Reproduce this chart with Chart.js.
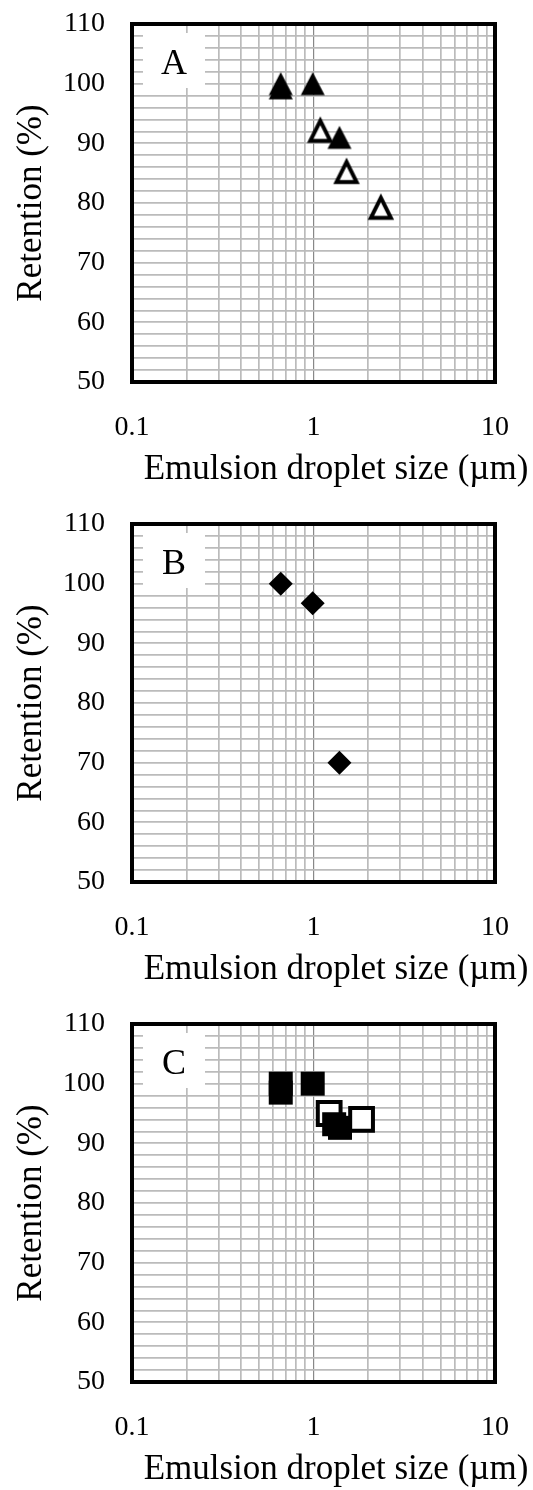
<!DOCTYPE html>
<html>
<head>
<meta charset="utf-8">
<title>Retention vs emulsion droplet size</title>
<script src="https://cdn.jsdelivr.net/npm/chart.js@4.4.1/dist/chart.umd.min.js"></script>
<style>
  html, body { margin: 0; padding: 0; background: #fff; }
  canvas { display: block; }
</style>
</head>
<body>
<canvas id="panelA" width="533" height="500"></canvas>
<canvas id="panelB" width="533" height="500"></canvas>
<canvas id="panelC" width="533" height="490"></canvas>
<script>
/* ===============================
   DATA
================================= */
const panelLabels = ['A', 'B', 'C'];
const xAxisTitle = 'Emulsion droplet size (µm)';
const yAxisTitle = 'Retention (%)';

const xGridValues = [0.1, 0.2, 0.3, 0.4, 0.5, 0.6, 0.7, 0.8, 0.9, 1, 2, 3, 4, 5, 6, 7, 8, 9, 10];
const xTickLabels = ['0.1', '1', '10'];
const yTickLabels = ['50', '60', '70', '80', '90', '100', '110'];

// A - triangles
const aFilledSize = [0.66, 0.66, 0.99, 1.39];
const aFilledRetention = [100, 99.3, 100, 91];
const aOpenSize = [1.09, 1.52, 2.35];
const aOpenRetention = [92.3, 85.4, 79.4];

// B - diamonds
const bSize = [0.66, 0.99, 1.39];
const bRetention = [100, 96.7, 70];

// C - squares
const cFilledSize = [0.66, 0.66, 0.99, 1.3, 1.4];
const cFilledRetention = [100, 98.5, 100, 93.2, 92.6];
const cOpenSize = [1.22, 1.84];
const cOpenRetention = [95, 94];

/* ===============================
   DEFAULTS
================================= */
const SERIF = '"Liberation Serif", "Times New Roman", serif';
Chart.defaults.font.family = SERIF;
Chart.defaults.color = '#000';

const PLOT_TOP = 24;
const PLOT_BOTTOM = 382;
const PLOT_LEFT = 132;
const PLOT_RIGHT = 495;

function toPoints(xs, ys) {
    return xs.map((x, i) => ({ x, y: ys[i] }));
}

// fixed box sizes, no extra room for overhanging tick labels
function pinScale(s, size) {
    if (s.isHorizontal()) s.height = size;
    else s.width = size;
    s.paddingTop = 0;
    s.paddingBottom = 0;
    s.paddingLeft = 0;
    s.paddingRight = 0;
}

/* ===============================
   MARKERS (excel-like triangles)
================================= */
function triangleMarker(filled) {
    const c = document.createElement('canvas');
    c.width = 30;
    c.height = 30;
    const g = c.getContext('2d');
    g.beginPath();
    if (filled) {
        g.moveTo(15, 3.5);
        g.lineTo(27, 26.5);
        g.lineTo(3, 26.5);
        g.closePath();
        g.fillStyle = '#000';
        g.fill();
    } else {
        // nudged down so the mitred outline sits centred
        g.moveTo(15, 6.2);
        g.lineTo(25, 26.2);
        g.lineTo(5, 26.2);
        g.closePath();
        g.fillStyle = '#fff';
        g.fill();
        g.lineWidth = 4;
        g.lineJoin = 'miter';
        g.strokeStyle = '#000';
        g.stroke();
    }
    return c;
}
const triFilled = triangleMarker(true);
const triOpen = triangleMarker(false);

/* ===============================
   PLUGIN: letter box, frame, x caption
================================= */
const panelFrame = {
    id: 'panelFrame',
    beforeDatasetsDraw(chart, args, opts) {
        const { ctx, chartArea: a } = chart;
        ctx.save();
        ctx.fillStyle = '#fff';
        ctx.fillRect(a.left + 11, a.top + 9, 62, 55);
        ctx.fillStyle = '#000';
        ctx.font = '36px ' + SERIF;
        ctx.textAlign = 'center';
        ctx.textBaseline = 'alphabetic';
        ctx.fillText(opts.label, a.left + 42, a.top + 50);

        ctx.lineWidth = 4;
        ctx.strokeStyle = '#000';
        ctx.strokeRect(a.left, a.top, a.right - a.left, a.bottom - a.top);
        ctx.restore();
    },
    afterDraw(chart, args, opts) {
        const { ctx } = chart;
        ctx.save();
        ctx.fillStyle = '#000';
        ctx.font = '35px ' + SERIF;
        ctx.textAlign = 'center';
        ctx.textBaseline = 'middle';
        ctx.fillText(xAxisTitle, opts.captionX, opts.captionY);
        ctx.restore();
    }
};

/* ===============================
   CHART BUILDER
================================= */
function makePanel(id, label, datasets) {
    const canvas = document.getElementById(id);
    const h = canvas.height;

    return new Chart(canvas, {
        type: 'scatter',
        data: { datasets },
        options: {
            responsive: false,
            animation: false,
            layout: {
                autoPadding: false,
                padding: { top: PLOT_TOP, right: canvas.width - PLOT_RIGHT, left: 0, bottom: 0 }
            },
            plugins: {
                legend: { display: false },
                tooltip: { enabled: false },
                panelFrame: { label, captionX: 336, captionY: 470 }
            },
            scales: {
                x: {
                    type: 'logarithmic',
                    min: 0.1,
                    max: 10,
                    afterFit: s => pinScale(s, h - PLOT_BOTTOM),
                    afterBuildTicks: s => { s.ticks = xGridValues.map(v => ({ value: v })); },
                    border: { display: false },
                    grid: {
                        drawTicks: false,
                        color: c => c.tick && c.tick.value === 1 ? '#888888' : '#bbbbbb',
                        lineWidth: c => c.tick && c.tick.value === 1 ? 1.2 : 1.7
                    },
                    ticks: {
                        autoSkip: false,
                        maxRotation: 0,
                        padding: 29,
                        font: { size: 28 },
                        callback: v => xTickLabels.includes(String(v)) ? String(v) : ''
                    }
                },
                y: {
                    min: 50,
                    max: 110,
                    afterFit: s => pinScale(s, PLOT_LEFT),
                    border: { display: false },
                    grid: { drawTicks: false, color: '#bbbbbb', lineWidth: 1.7 },
                    ticks: {
                        stepSize: 2,
                        autoSkip: false,
                        padding: 27,
                        font: { size: 28 },
                        callback: v => yTickLabels.includes(String(v)) ? String(v) : ''
                    },
                    title: {
                        display: true,
                        text: yAxisTitle,
                        font: { size: 35 },
                        padding: { top: 11, bottom: 0 }
                    }
                }
            }
        },
        plugins: [panelFrame]
    });
}

/* ===============================
   PANELS
================================= */
makePanel('panelA', panelLabels[0], [
    { data: toPoints(aFilledSize, aFilledRetention), pointStyle: triFilled },
    { data: toPoints(aOpenSize, aOpenRetention), pointStyle: triOpen }
]);

makePanel('panelB', panelLabels[1], [
    {
        data: toPoints(bSize, bRetention),
        pointStyle: 'rectRot',
        pointRadius: 12,
        pointBackgroundColor: '#000',
        pointBorderWidth: 0
    }
]);

makePanel('panelC', panelLabels[2], [
    {
        data: toPoints(cFilledSize, cFilledRetention),
        pointStyle: 'rect',
        pointRadius: 16.97,
        pointBackgroundColor: '#000',
        pointBorderWidth: 0
    },
    {
        data: toPoints(cOpenSize, cOpenRetention),
        pointStyle: 'rect',
        pointRadius: 16.1,
        pointBackgroundColor: '#fff',
        pointBorderColor: '#000',
        pointBorderWidth: 4
    }
]);
</script>
</body>
</html>
